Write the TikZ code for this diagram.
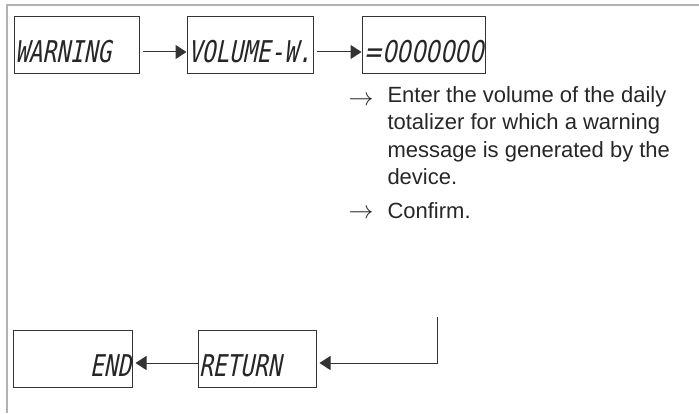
\documentclass[tikz,border=0pt]{standalone}
\usepackage{fontspec}
\setmainfont{Liberation Sans}
\newfontfamily\lcdfont[FakeStretch=0.76,FakeSlant=0.2]{DejaVu Sans Mono}
\newfontfamily\lcddigits[FakeStretch=0.76,FakeSlant=0.2]{DejaVu Sans}
\usetikzlibrary{arrows.meta}

\tikzset{
  lcdbox/.style={draw=black!80, line width=1pt, minimum height=57pt, inner sep=1pt,
    text height=35pt, text depth=0pt, align=left, text=black!85,
    font=\lcdfont\fontsize{30}{30}\selectfont},
  note/.style={inner sep=0pt, align=left, text=black!85, font=\fontsize{22}{27.5}\selectfont},
  pointer/.style={inner sep=0pt, text=black!85, font=\fontsize{24}{24}\selectfont},
}

\begin{document}
\begin{tikzpicture}[x=1pt, y=1pt, >={Triangle[length=11pt,width=14pt]}, line width=1pt]
  \useasboundingbox (0,0) rectangle (699,413);

  % 1. 外框
  \draw[gray!60, line width=2.5pt] (7,0) -- (7,408) -- (699,408);

  % 2. 显示框
  \node[lcdbox, text width=123pt] (warn) at (76.5,367.5) {WARNING};
  \node[lcdbox, text width=124pt] (vol) at (250,367.5) {VOLUME-W.};
  \node[lcdbox, text width=121pt] (val) at (423.5,367.5) {\lcddigits =0000000};
  \node[lcdbox, text width=117pt, align=right] (fin) at (72.5,54) {END};
  \node[lcdbox, text width=116pt] (ret) at (257,54) {RETURN};

  % 3. 说明文字
  \node[note, anchor=north west] (enter) at (387,327)
    {Enter the volume of the daily\\totalizer for which a warning\\message is generated by the\\device.};
  \node[note, anchor=base west] (confirm) at (387,194) {Confirm.};
  \node[pointer, anchor=base west] (arrA) at (348,307) {$\rightarrow$};
  \node[pointer, anchor=base west] (arrB) at (348,194) {$\rightarrow$};

  % 4. 连接箭头
  \draw[->, black!80, shorten <=3pt] ([yshift=-6.5pt]warn.east) -- ([yshift=-6.5pt]vol.west);
  \draw[->, black!80, shorten <=3pt] ([yshift=-6.5pt]vol.east) -- ([yshift=-6.5pt]val.west);
  \coordinate (turn) at (437,96);
  \draw[->, black!80, shorten >=3pt] (turn) |- ([yshift=-4pt]ret.east);
  \draw[->, black!80, shorten >=3pt] ([yshift=-4pt]ret.west) -- ([yshift=-4pt]fin.east);
\end{tikzpicture}
\end{document}
